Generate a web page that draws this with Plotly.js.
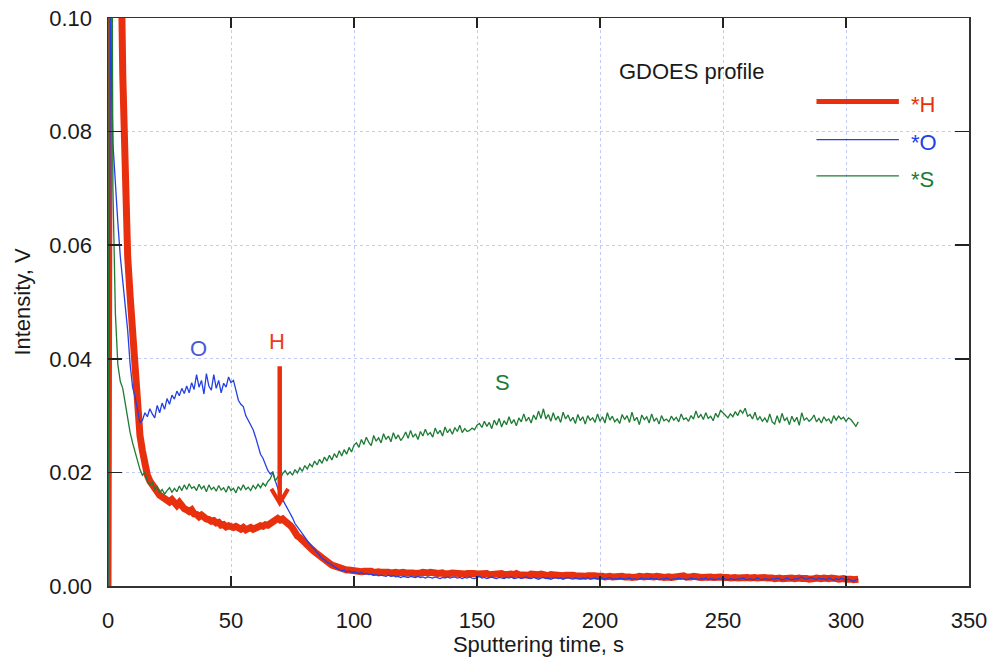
<!DOCTYPE html>
<html>
<head>
<meta charset="utf-8">
<script src="https://cdn.plot.ly/plotly-3.0.1.min.js"></script>
<style>
  html, body { margin: 0; padding: 0; background: #fff; }
  #chart { width: 994px; height: 657px; }
</style>
</head>
<body>
<div id="chart"></div>
<script>
// GDOES depth profile: emission intensity of H, O and S versus sputtering time.
// One sample per second, starting at t = 0 s.
const sampleStart = 0;   // s
const sampleStep = 1;    // s

const seriesNames = ['H', 'O', 'S'];

const hIntensity = [
  0, 0.3, 0.4, 0.3, 0.2, 0.12, 0.09, 0.072, 0.058, 0.051, 0.044,
  0.036, 0.0295, 0.0265, 0.0238, 0.021, 0.0195, 0.0185, 0.0178, 0.017, 0.0165,
  0.016, 0.0157, 0.0153, 0.0151, 0.0148, 0.0152, 0.0144, 0.0142, 0.0147, 0.0138,
  0.0136, 0.0134, 0.0131, 0.0134, 0.0127, 0.0126, 0.0122, 0.0125, 0.0119, 0.0118,
  0.0117, 0.0114, 0.0115, 0.0111, 0.0112, 0.0107, 0.0108, 0.0104, 0.0106, 0.0104,
  0.0103, 0.0105, 0.0101, 0.0100, 0.0103, 0.0099, 0.0101, 0.0103, 0.0100, 0.0103,
  0.0104, 0.0106, 0.0105, 0.0108, 0.0107, 0.0111, 0.0113, 0.0118, 0.0119, 0.0116,
  0.0118, 0.0114, 0.0112, 0.0107, 0.0102, 0.0094, 0.0088, 0.0085, 0.0080, 0.0076,
  0.0072, 0.0068, 0.0064, 0.0060, 0.0056, 0.0052, 0.0048, 0.0045, 0.0042, 0.0040,
  0.0037, 0.0035, 0.0033, 0.0031, 0.0030, 0.0029, 0.0028, 0.0028, 0.0027, 0.0027,
  0.0026, 0.0027, 0.0025, 0.0026, 0.0027, 0.0025, 0.0026, 0.0024, 0.0026, 0.0025,
  0.0024, 0.0025, 0.0026, 0.0024, 0.0023, 0.0025, 0.0024, 0.0023, 0.0025, 0.0024,
  0.0023, 0.0024, 0.0025, 0.0023, 0.0022, 0.0024, 0.0023, 0.0024, 0.0022, 0.0023,
  0.0024, 0.0022, 0.0023, 0.0022, 0.0024, 0.0023, 0.0021, 0.0023, 0.0022, 0.0023,
  0.0022, 0.0021, 0.0023, 0.0022, 0.0021, 0.0022, 0.0023, 0.0021, 0.0022, 0.0021,
  0.0022, 0.0020, 0.0021, 0.0022, 0.0020, 0.0021, 0.0022, 0.0020, 0.0021, 0.0022,
  0.0020, 0.0021, 0.0019, 0.0021, 0.0020, 0.0022, 0.0020, 0.0019, 0.0021, 0.0020,
  0.0019, 0.0021, 0.0020, 0.0019, 0.0020, 0.0021, 0.0019, 0.0020, 0.0018, 0.0020,
  0.0019, 0.0018, 0.0020, 0.0019, 0.0018, 0.0019, 0.0020, 0.0018, 0.0019, 0.0018,
  0.0017, 0.0019, 0.0018, 0.0017, 0.0018, 0.0019, 0.0017, 0.0018, 0.0017, 0.0018,
  0.0017, 0.0016, 0.0018, 0.0017, 0.0016, 0.0017, 0.0018, 0.0016, 0.0017, 0.0016,
  0.0017, 0.0016, 0.0015, 0.0017, 0.0016, 0.0017, 0.0015, 0.0016, 0.0017, 0.0016,
  0.0015, 0.0016, 0.0017, 0.0015, 0.0016, 0.0015, 0.0017, 0.0016, 0.0015, 0.0016,
  0.0017, 0.0015, 0.0016, 0.0018, 0.0016, 0.0015, 0.0016, 0.0017, 0.0015, 0.0016,
  0.0015, 0.0016, 0.0015, 0.0017, 0.0016, 0.0015, 0.0016, 0.0014, 0.0016, 0.0015,
  0.0016, 0.0015, 0.0014, 0.0016, 0.0015, 0.0014, 0.0015, 0.0016, 0.0014, 0.0015,
  0.0014, 0.0016, 0.0015, 0.0014, 0.0015, 0.0013, 0.0015, 0.0014, 0.0015, 0.0014,
  0.0013, 0.0015, 0.0014, 0.0013, 0.0014, 0.0015, 0.0013, 0.0014, 0.0013, 0.0015,
  0.0014, 0.0013, 0.0014, 0.0013, 0.0012, 0.0014, 0.0013, 0.0014, 0.0012, 0.0013,
  0.0014, 0.0012, 0.0013, 0.0014, 0.0012, 0.0013, 0.0012, 0.0014, 0.0013, 0.0012,
  0.0013, 0.0012, 0.0011, 0.0013, 0.0012
];

const oIntensity = [
  0, 0.1, 0.078, 0.070, 0.064, 0.058, 0.054, 0.050, 0.045, 0.039, 0.035,
  0.0333, 0.031, 0.0287, 0.0292, 0.0305, 0.0298, 0.0312, 0.0303, 0.0296, 0.0318,
  0.0305, 0.0322, 0.0311, 0.0330, 0.0320, 0.0336, 0.0329, 0.0343, 0.0335, 0.0348,
  0.0339, 0.0352, 0.0340, 0.0358, 0.0346, 0.0372, 0.0350, 0.0362, 0.0338, 0.0374,
  0.0352, 0.0345, 0.0372, 0.0348, 0.0362, 0.0340, 0.0357, 0.0350, 0.0368, 0.0358,
  0.0362, 0.0345, 0.0327, 0.0320, 0.0316, 0.0300, 0.0292, 0.0284, 0.0275, 0.0262,
  0.0245, 0.0232, 0.0225, 0.0212, 0.0203, 0.0197, 0.0201, 0.0185, 0.0172, 0.0160,
  0.0152, 0.0143, 0.0136, 0.0128, 0.0120, 0.0110, 0.0104, 0.0099, 0.0092, 0.0086,
  0.0079, 0.0074, 0.0069, 0.0064, 0.0058, 0.0054, 0.0049, 0.0046, 0.0042, 0.0040,
  0.0037, 0.0033, 0.0031, 0.0029, 0.0027, 0.0028, 0.0025, 0.0026, 0.0024, 0.0025,
  0.0023, 0.0022, 0.0024, 0.0021, 0.0022, 0.0020, 0.0021, 0.0019, 0.0020, 0.0018,
  0.0019, 0.0018, 0.0017, 0.0019, 0.0017, 0.0018, 0.0016, 0.0017, 0.0015, 0.0017,
  0.0016, 0.0015, 0.0017, 0.0016, 0.0015, 0.0017, 0.0015, 0.0016, 0.0014, 0.0016,
  0.0015, 0.0014, 0.0016, 0.0015, 0.0013, 0.0015, 0.0014, 0.0016, 0.0014, 0.0015,
  0.0016, 0.0014, 0.0015, 0.0013, 0.0015, 0.0014, 0.0016, 0.0014, 0.0013, 0.0015,
  0.0017, 0.0014, 0.0015, 0.0013, 0.0014, 0.0016, 0.0014, 0.0013, 0.0015, 0.0014,
  0.0013, 0.0015, 0.0014, 0.0016, 0.0013, 0.0014, 0.0015, 0.0013, 0.0014, 0.0016,
  0.0014, 0.0013, 0.0015, 0.0014, 0.0012, 0.0014, 0.0015, 0.0013, 0.0014, 0.0012,
  0.0014, 0.0015, 0.0013, 0.0014, 0.0012, 0.0013, 0.0015, 0.0013, 0.0012, 0.0014,
  0.0013, 0.0012, 0.0014, 0.0013, 0.0015, 0.0012, 0.0013, 0.0014, 0.0012, 0.0013,
  0.0014, 0.0012, 0.0013, 0.0015, 0.0012, 0.0013, 0.0012, 0.0014, 0.0013, 0.0012,
  0.0013, 0.0014, 0.0012, 0.0013, 0.0011, 0.0013, 0.0014, 0.0012, 0.0013, 0.0012,
  0.0014, 0.0012, 0.0013, 0.0011, 0.0013, 0.0012, 0.0014, 0.0012, 0.0011, 0.0013,
  0.0012, 0.0014, 0.0012, 0.0013, 0.0011, 0.0012, 0.0014, 0.0012, 0.0013, 0.0011,
  0.0013, 0.0012, 0.0014, 0.0011, 0.0013, 0.0012, 0.0011, 0.0013, 0.0012, 0.0014,
  0.0012, 0.0011, 0.0013, 0.0012, 0.0011, 0.0013, 0.0012, 0.0014, 0.0012, 0.0011,
  0.0013, 0.0011, 0.0012, 0.0014, 0.0012, 0.0011, 0.0013, 0.0012, 0.0011, 0.0013,
  0.0012, 0.0014, 0.0013, 0.0011, 0.0012, 0.0014, 0.0012, 0.0011, 0.0013, 0.0012,
  0.0014, 0.0016, 0.0013, 0.0012, 0.0014, 0.0015, 0.0013, 0.0011, 0.0014, 0.0012,
  0.0013, 0.0011, 0.0014, 0.0012, 0.0010, 0.0013, 0.0011, 0.0014, 0.0012, 0.0010,
  0.0012, 0.0010, 0.0008, 0.0011, 0.0012
];

const sIntensity = [
  0, 0.2, 0.07, 0.048, 0.039, 0.036, 0.0348, 0.0320, 0.0290, 0.0270, 0.0252,
  0.0235, 0.0218, 0.0205, 0.0195, 0.0200, 0.0185, 0.0178, 0.0182, 0.0170, 0.0175,
  0.0164, 0.0170, 0.0162, 0.0168, 0.0173, 0.0165, 0.0172, 0.0166, 0.0176, 0.0168,
  0.0178, 0.0170, 0.0180, 0.0172, 0.0175, 0.0168, 0.0179, 0.0171, 0.0176, 0.0166,
  0.0178, 0.0170, 0.0174, 0.0167, 0.0177, 0.0169, 0.0173, 0.0165, 0.0176, 0.0168,
  0.0172, 0.0164, 0.0175, 0.0169, 0.0178, 0.0170, 0.0174, 0.0168, 0.0177, 0.0171,
  0.0179, 0.0173, 0.0181, 0.0176, 0.0184, 0.0189, 0.0200, 0.0185, 0.0192, 0.0187,
  0.0198, 0.0203, 0.0196, 0.0201, 0.0195, 0.0205, 0.0199, 0.0208, 0.0202, 0.0212,
  0.0206, 0.0215, 0.0210, 0.0220, 0.0213, 0.0223, 0.0216, 0.0227, 0.0220, 0.0230,
  0.0222, 0.0233, 0.0226, 0.0238, 0.0229, 0.0240, 0.0232, 0.0244, 0.0236, 0.0248,
  0.0252, 0.0244, 0.0258, 0.0249, 0.0262, 0.0253, 0.0247, 0.0265, 0.0255, 0.0261,
  0.0252, 0.0268, 0.0258, 0.0264, 0.0254, 0.0270, 0.0259, 0.0266, 0.0256, 0.0262,
  0.0271, 0.0260, 0.0274, 0.0262, 0.0268, 0.0258, 0.0272, 0.0264, 0.0276, 0.0266,
  0.0270, 0.0262, 0.0278, 0.0268, 0.0274, 0.0264, 0.0280, 0.0270, 0.0276, 0.0267,
  0.0279, 0.0272, 0.0283, 0.0270, 0.0277, 0.0272, 0.0274, 0.0278, 0.0275, 0.0283,
  0.0286, 0.0279, 0.0290, 0.0281, 0.0288, 0.0277, 0.0292, 0.0283, 0.0295, 0.0280,
  0.0291, 0.0284, 0.0298, 0.0286, 0.0293, 0.0282, 0.0296, 0.0289, 0.0303, 0.0290,
  0.0297, 0.0287, 0.0301, 0.0293, 0.0308, 0.0295, 0.0312, 0.0294, 0.0302, 0.0290,
  0.0305, 0.0292, 0.0299, 0.0288, 0.0306, 0.0294, 0.0301, 0.0290, 0.0297, 0.0286,
  0.0302, 0.0291, 0.0298, 0.0285, 0.0300, 0.0292, 0.0296, 0.0288, 0.0303, 0.0290,
  0.0298, 0.0287, 0.0305, 0.0292, 0.0299, 0.0289, 0.0294, 0.0286, 0.0302, 0.0293,
  0.0300, 0.0288, 0.0306, 0.0291, 0.0297, 0.0284, 0.0301, 0.0293, 0.0298, 0.0287,
  0.0303, 0.0290, 0.0296, 0.0285, 0.0300, 0.0291, 0.0294, 0.0289, 0.0299, 0.0292,
  0.0297, 0.0289, 0.0303, 0.0293, 0.0296, 0.0290, 0.0300, 0.0294, 0.0308, 0.0296,
  0.0302, 0.0293, 0.0305, 0.0295, 0.0299, 0.0291, 0.0304, 0.0297, 0.0309, 0.0305,
  0.0301, 0.0296, 0.0303, 0.0298, 0.0307, 0.0300, 0.0310, 0.0304, 0.0313, 0.0299,
  0.0302, 0.0294, 0.0306, 0.0292, 0.0298, 0.0290, 0.0296, 0.0288, 0.0303, 0.0289,
  0.0285, 0.0300, 0.0287, 0.0304, 0.0291, 0.0296, 0.0284, 0.0299, 0.0289, 0.0297,
  0.0283, 0.0305, 0.0292, 0.0296, 0.0290, 0.0294, 0.0301, 0.0289, 0.0295, 0.0287,
  0.0298, 0.0291, 0.0294, 0.0286, 0.0300, 0.0292, 0.0299, 0.0294, 0.0297, 0.0290,
  0.0296, 0.0293, 0.0287, 0.0281, 0.0289
];

const xTicks = [0, 50, 100, 150, 200, 250, 300, 350];
const yTicks = [0.00, 0.02, 0.04, 0.06, 0.08, 0.10];

const RED = '#e8300f';
const BLUE = '#2340e4';
const GREEN = '#1d7b34';
const FONT = 'Liberation Sans, Arial, Helvetica, sans-serif';

const traces = [
  {
    name: seriesNames[0], y: hIntensity, x0: sampleStart, dx: sampleStep,
    type: 'scatter', mode: 'lines',
    line: {color: RED, width: 7}
  },
  {
    name: seriesNames[1], y: oIntensity, x0: sampleStart, dx: sampleStep,
    type: 'scatter', mode: 'lines',
    line: {color: BLUE, width: 1.3}
  },
  {
    name: seriesNames[2], y: sIntensity, x0: sampleStart, dx: sampleStep,
    type: 'scatter', mode: 'lines',
    line: {color: GREEN, width: 1.3}
  }
];

// Hand-drawn key in the upper right: sample line + "*name" label per series
const keyColors = [RED, BLUE, GREEN];
const keyWidths = [5, 1.3, 1.3];
const keyLineY = [0.0853, 0.0786, 0.0722];
const keyShapes = seriesNames.map((n, i) => ({
  type: 'line', xref: 'x', yref: 'y',
  x0: 288, x1: 321.5, y0: keyLineY[i], y1: keyLineY[i],
  line: {color: keyColors[i], width: keyWidths[i]}
}));
const keyLabels = seriesNames.map((n, i) => ({
  xref: 'x', yref: 'y', x: 325.5, y: keyLineY[i] - 0.0006,
  xanchor: 'left', yanchor: 'middle', showarrow: false,
  text: '*' + n, font: {family: FONT, size: 22, color: keyColors[i]}
}));

// Arrow pointing at the hydrogen shoulder near 70 s
const arrowT = 69.8, arrowTop = 0.0387, arrowTip = 0.0146;
const arrowShapes = [
  {type: 'line', xref: 'x', yref: 'y', x0: arrowT, x1: arrowT, y0: arrowTop, y1: arrowTip + 0.0004,
   line: {color: RED, width: 4.5}},
  {type: 'path', xref: 'x', yref: 'y',
   path: `M ${arrowT - 3.4},0.0171 L ${arrowT},${arrowTip} L ${arrowT + 3.4},0.0171`,
   line: {color: RED, width: 4}}
];

const layout = {
  width: 994, height: 657,
  margin: {l: 108, r: 25, t: 18, b: 71, pad: 0},
  paper_bgcolor: '#ffffff', plot_bgcolor: '#ffffff',
  font: {family: FONT, size: 22, color: '#1a1a1a'},
  showlegend: false,
  xaxis: {
    range: [0, 350], tickvals: xTicks, ticktext: xTicks.map(String),
    ticks: 'inside', ticklen: 10, tickwidth: 1.5, tickcolor: '#222',
    ticklabelstandoff: 14,
    showline: true, linecolor: '#333', linewidth: 1.5, mirror: 'ticks',
    showgrid: true, gridcolor: '#c3cbf4', griddash: 'dot', gridwidth: 1,
    zeroline: false,
    tickfont: {family: FONT, size: 22, color: '#1a1a1a'},
    title: {text: 'Sputtering time, s', standoff: 12, font: {family: FONT, size: 22, color: '#1a1a1a'}}
  },
  yaxis: {
    range: [0, 0.1], tickvals: yTicks, ticktext: yTicks.map(v => v.toFixed(2)),
    ticks: 'inside', ticklen: 14, tickwidth: 1.5, tickcolor: '#222',
    ticklabelstandoff: 10,
    showline: true, linecolor: '#333', linewidth: 1.5, mirror: 'ticks',
    showgrid: true, gridcolor: '#c3cbf4', griddash: 'dot', gridwidth: 1,
    zeroline: false,
    tickfont: {family: FONT, size: 22, color: '#1a1a1a'},
    title: {text: 'Intensity, V', standoff: 12, font: {family: FONT, size: 22, color: '#1a1a1a'}}
  },
  shapes: keyShapes.concat(arrowShapes),
  annotations: [
    {xref: 'x', yref: 'y', x: 206.9, y: 0.0905, xanchor: 'left', yanchor: 'middle', showarrow: false,
     text: 'GDOES profile', font: {family: FONT, size: 22, color: '#1a1a1a'}},
    {xref: 'x', yref: 'y', x: 36.8, y: 0.0418, showarrow: false,
     text: 'O', font: {family: FONT, size: 22, color: '#4a58d8'}},
    {xref: 'x', yref: 'y', x: 68.7, y: 0.0431, showarrow: false,
     text: 'H', font: {family: FONT, size: 22, color: '#ee3a1c'}},
    {xref: 'x', yref: 'y', x: 160.4, y: 0.0359, showarrow: false,
     text: 'S', font: {family: FONT, size: 22, color: GREEN}}
  ].concat(keyLabels)
};

Plotly.newPlot('chart', traces, layout, {displayModeBar: false, staticPlot: true});
</script>
</body>
</html>
